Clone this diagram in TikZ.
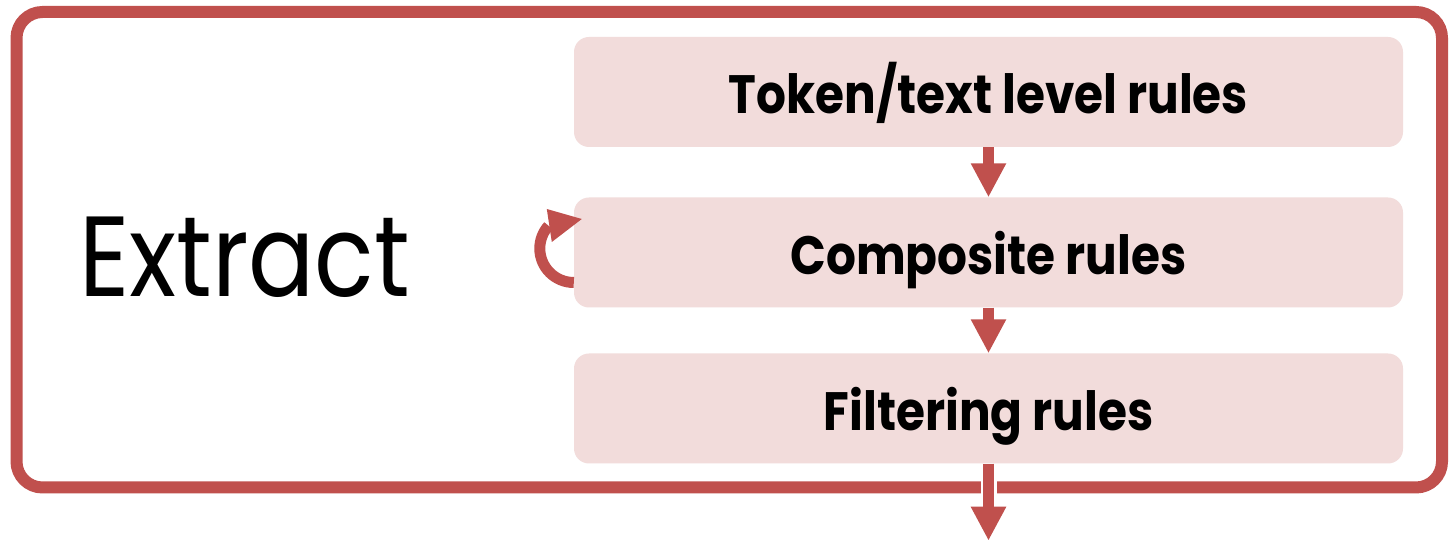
\documentclass[tikz,border=0pt]{standalone}
\usepackage{fontspec}
\setmainfont{Poppins}
\newfontfamily\boxfont{Poppins}[FakeStretch=0.87]
\newfontfamily\bigfont{Poppins}[FakeStretch=0.86]
\usetikzlibrary{arrows.meta,calc}
\definecolor{framered}{HTML}{C0504D}
\definecolor{boxpink}{HTML}{F2DCDB}
\tikzset{
  rulebox/.style={fill=boxpink, draw=none, rounded corners=15pt, minimum width=829pt, minimum height=110pt, inner sep=0pt, text height=44pt, text depth=0pt, font=\boxfont\fontsize{54}{64}\selectfont\bfseries},
  flowarrow/.style={draw=framered, line width=11pt, -{Triangle[width=33pt,length=34pt]}},
}
\begin{document}
\begin{tikzpicture}[x=1pt,y=1pt]
\useasboundingbox[fill=white] (0,0) rectangle (1451,540);
\draw[framered, line width=12pt, rounded corners=26pt] (16.5,528) rectangle (1442,52.5);
\node[rulebox] (b1) at (988.5,448) {Token/text level rules};
\node[rulebox] (b2) at (988.5,287.5) {Composite rules};
\node[rulebox] (b3) at (988.5,131.5) {Filtering rules};
\node[anchor=base west, inner sep=0pt, font=\bigfont\fontsize{114}{130}\selectfont] (ex) at (79,243) {Extract};
\draw[flowarrow] (b1.south) -- (b2.north);
\draw[flowarrow] (b2.south) -- (b3.north);
\coordinate (out) at ($(b3.south)+(0,-77)$);
\draw[white, line width=16pt] (b3.south) -- ++(0,-40);
\draw[flowarrow] (b3.south) -- (out);
\draw[framered, line width=11pt] ($(b2.west)+(0,-30)$) arc[start angle=270, end angle=138, radius=34pt];
\fill[framered] ($(b2.west)+(-27,43.5)$) -- ($(b2.west)+(8,33.5)$) -- ($(b2.west)+(-22,10.5)$) -- cycle;
\end{tikzpicture}
\end{document}
